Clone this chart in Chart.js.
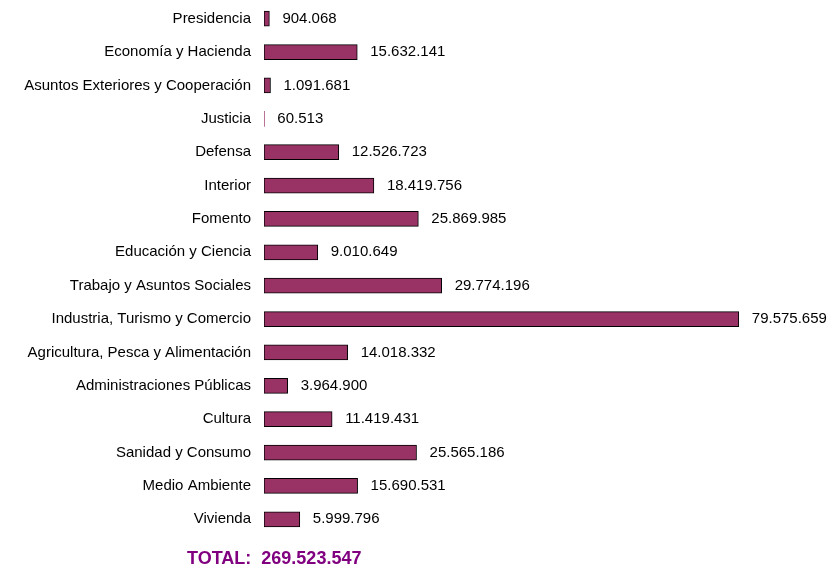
<!DOCTYPE html>
<html lang="es">
<head>
<meta charset="utf-8">
<title>Presupuesto por ministerios</title>
<script src="https://cdn.jsdelivr.net/npm/chart.js@4.4.1/dist/chart.umd.min.js"></script>
<style>
    html, body { margin: 0; padding: 0; background: #fff; }
    #wrap { position: relative; width: 840px; height: 568px; }
    #total {
        position: absolute;
        left: 187px;
        top: 549px;
        font: bold 18px "Liberation Sans", Arial, sans-serif;
        line-height: 18px;
        color: #800080;
        white-space: pre;
    }
</style>
</head>
<body>
<div id="wrap">
    <canvas id="budgetChart" width="840" height="568"></canvas>
    <div id="total">TOTAL:  269.523.547</div>
</div>
<script>
const ministries = [
    'Presidencia',
    'Economía y Hacienda',
    'Asuntos Exteriores y Cooperación',
    'Justicia',
    'Defensa',
    'Interior',
    'Fomento',
    'Educación y Ciencia',
    'Trabajo y Asuntos Sociales',
    'Industria, Turismo y Comercio',
    'Agricultura, Pesca y Alimentación',
    'Administraciones Públicas',
    'Cultura',
    'Sanidad y Consumo',
    'Medio Ambiente',
    'Vivienda'
];

const amounts = [
    904068, 15632141, 1091681, 60513, 12526723, 18419756, 25869985, 9010649,
    29774196, 79575659, 14018332, 3964900, 11419431, 25565186, 15690531, 5999796
];

const FONT = '"Liberation Sans", Arial, sans-serif';

// thousands with dots, as in 15.632.141
const fmt = (v) => String(v).replace(/\B(?=(\d{3})+(?!\d))/g, '.');

const valueLabels = {
    id: 'valueLabels',
    afterDatasetsDraw(chart) {
        const ctx = chart.ctx;
        const meta = chart.getDatasetMeta(0);
        ctx.save();
        ctx.font = '15px ' + FONT;
        ctx.fillStyle = '#000';
        ctx.textAlign = 'left';
        ctx.textBaseline = 'middle';
        meta.data.forEach((bar, i) => {
            ctx.fillText(fmt(amounts[i]), bar.x + 13, bar.y);
        });
        ctx.restore();
    }
};

new Chart(document.getElementById('budgetChart'), {
    type: 'bar',
    data: {
        labels: ministries,
        datasets: [{
            data: amounts,
            backgroundColor: '#993366',
            borderColor: '#000',
            // no outline on bars too thin to show
            borderWidth: (c) => (c.raw < 200000 ? 0 : 1),
            borderSkipped: false,
            barThickness: 15
        }]
    },
    options: {
        indexAxis: 'y',
        responsive: false,
        animation: false,
        devicePixelRatio: 1,
        layout: { padding: { top: 2, bottom: 32, left: 0, right: 39 } },
        plugins: {
            legend: { display: false },
            tooltip: { enabled: false }
        },
        scales: {
            x: {
                display: false,
                min: 0,
                max: 90000000
            },
            y: {
                grid: { display: false, drawTicks: false },
                border: { display: false },
                ticks: {
                    color: '#000',
                    padding: 13,
                    font: { family: FONT, size: 15 }
                },
                afterFit(scale) {
                    scale.width = 264;
                    // keep the rows spread over the full height
                    scale.paddingTop = 0;
                    scale.paddingBottom = 0;
                }
            }
        }
    },
    plugins: [valueLabels]
});
</script>
</body>
</html>
